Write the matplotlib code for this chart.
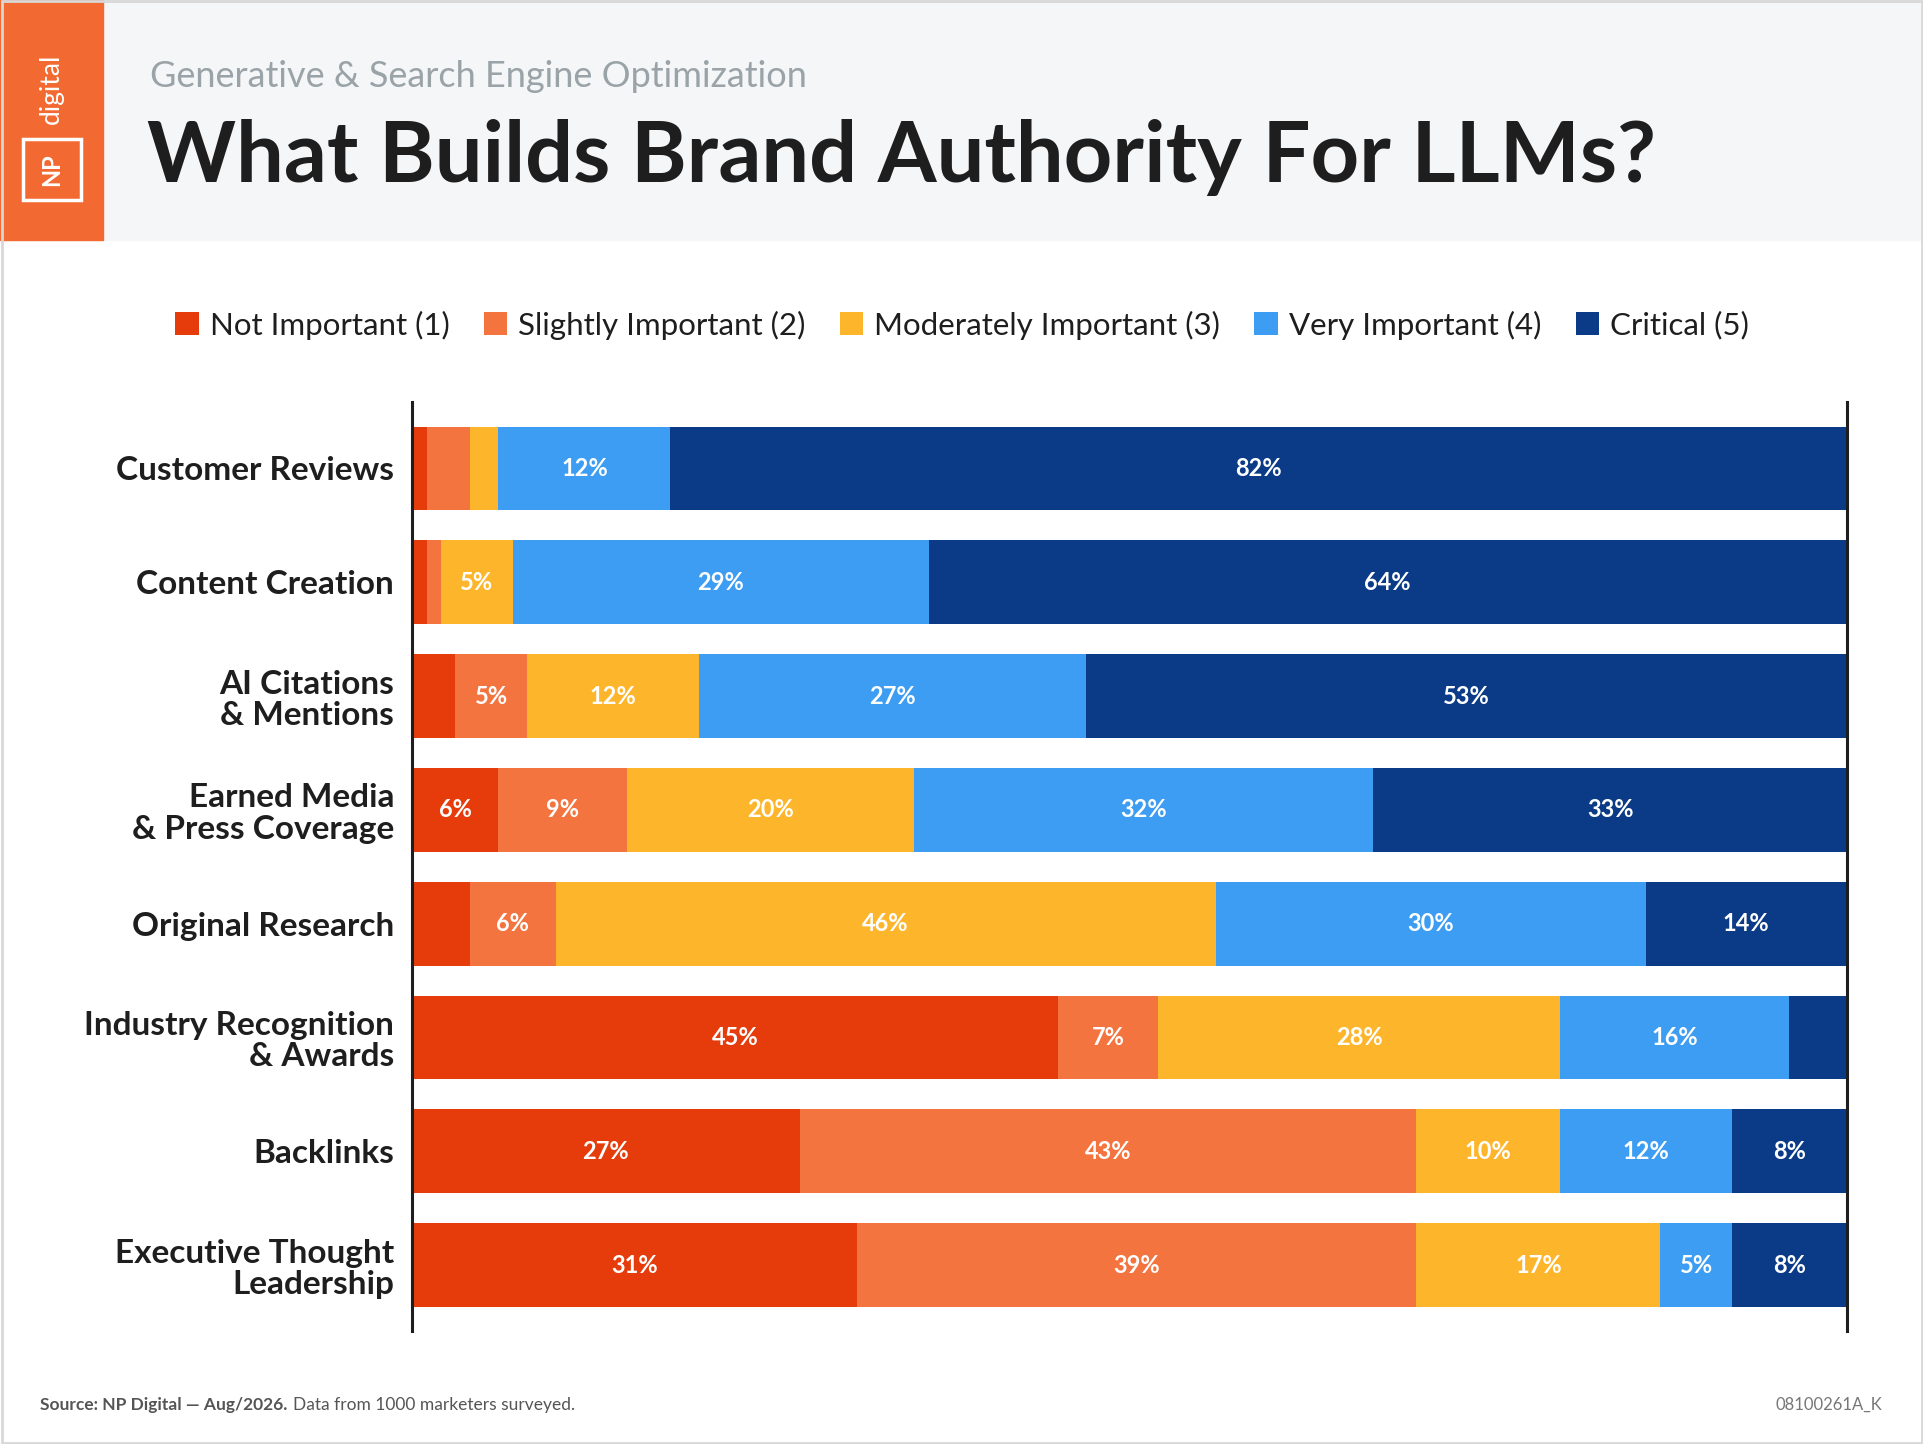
import matplotlib
matplotlib.use("Agg")
import matplotlib.pyplot as plt
import numpy as np
from matplotlib.patches import Rectangle

plt.rcParams['font.family'] = ['Lato', 'DejaVu Sans']

categories = ["Customer Reviews", "Content Creation", "AI Citations\n& Mentions",
              "Earned Media\n& Press Coverage", "Original Research",
              "Industry Recognition\n& Awards", "Backlinks", "Executive Thought\nLeadership"]
series_names = ["Not Important (1)", "Slightly Important (2)", "Moderately Important (3)",
                "Very Important (4)", "Critical (5)"]
not_important = [1, 1, 3, 6, 4, 45, 27, 31]
slightly = [3, 1, 5, 9, 6, 7, 43, 39]
moderately = [2, 5, 12, 20, 46, 28, 10, 17]
very = [12, 29, 27, 32, 30, 16, 12, 5]
critical = [82, 64, 53, 33, 14, 4, 8, 8]
colors = ["#E63C0C", "#F47440", "#FDB62C", "#3C9DF2", "#0B3B86"]

W, H = 1568, 1177
fig = plt.figure(figsize=(19.24, 14.44), dpi=100)
fig.patch.set_facecolor("white")

def fx(px): return px / W
def fy(py): return 1 - py / H

fig.add_artist(Rectangle((0, fy(196)), 1, 196 / H, transform=fig.transFigure, color="#F5F6F8", zorder=0))
fig.add_artist(Rectangle((0, fy(196)), fx(84), 196 / H, transform=fig.transFigure, color="#F26A32", zorder=1))
fig.add_artist(Rectangle((fx(19), fy(163)), fx(47), 50 / H, transform=fig.transFigure, fill=False,
                         edgecolor="white", lw=2.5, zorder=2))
fig.text(fx(42), fy(138), "NP", rotation=90, color="white", fontsize=17, fontweight="bold",
         ha="center", va="center", zorder=3)
fig.text(fx(42), fy(72), "digital", rotation=90, color="white", fontsize=19,
         ha="center", va="center", zorder=3)
fig.add_artist(Rectangle((0.001, 0.001), 0.998, 0.998, transform=fig.transFigure, fill=False,
                         edgecolor="#D8D8D8", lw=2))

fig.text(fx(122), fy(62), "Generative & Search Engine Optimization", fontsize=26, color="#9AA3A8",
         va="center", ha="left")
fig.text(fx(120), fy(128), "What Builds Brand Authority For LLMs?", fontsize=61, fontweight="bold",
         color="#1E1E1E", va="center", ha="left")

ax = fig.add_axes([fx(336), fy(1085), fx(1505) - fx(336), (1085 - 328) / H])
data = [not_important, slightly, moderately, very, critical]
y = np.arange(len(categories))
left = np.zeros(len(categories))
handles = []
for vals, c, name in zip(data, colors, series_names):
    vals = np.array(vals, float)
    b = ax.barh(y, vals, left=left, height=0.735, color=c, label=name)
    handles.append(b)
    for yi, v, l in zip(y, vals, left):
        if v >= 5:
            ax.text(l + v / 2, yi, f"{int(v)}%", ha="center", va="center", color="white",
                    fontsize=17, fontweight="bold")
    left += vals
ax.set_xlim(0, 100)
ax.set_ylim(7.58, -0.58)
ax.set_yticks(y)
ax.set_yticklabels(categories, fontsize=24, fontweight="bold", color="#1E1E1E", linespacing=1.1)
ax.tick_params(axis="y", length=0, pad=13)
ax.set_xticks([])
for s in ["top", "bottom"]:
    ax.spines[s].set_visible(False)
for s in ["left", "right"]:
    ax.spines[s].set_linewidth(2.2)
    ax.spines[s].set_color("#1E1E1E")
ax.set_facecolor("none")

fig.legend(handles=handles, labels=series_names, loc="center", bbox_to_anchor=(0.5, fy(265)),
           ncol=5, frameon=False, fontsize=22.5, handlelength=0.75, handleheight=0.75,
           handletextpad=0.35, columnspacing=1.1, labelcolor="#1E1E1E")

t1 = fig.text(fx(33), fy(1145), "Source: NP Digital \u2014 Aug/2026.", fontsize=12.5, fontweight="bold",
              color="#555555", va="center")
fig.canvas.draw()
bb = t1.get_window_extent()
x2 = (bb.x1 + 5) / fig.bbox.width
fig.text(x2, fy(1145), "Data from 1000 marketers surveyed.", fontsize=12.5, color="#555555", va="center")
fig.text(fx(1534), fy(1145), "08100261A_K", fontsize=12, color="#777777", va="center", ha="right")

fig.savefig("out.png", dpi=100)
